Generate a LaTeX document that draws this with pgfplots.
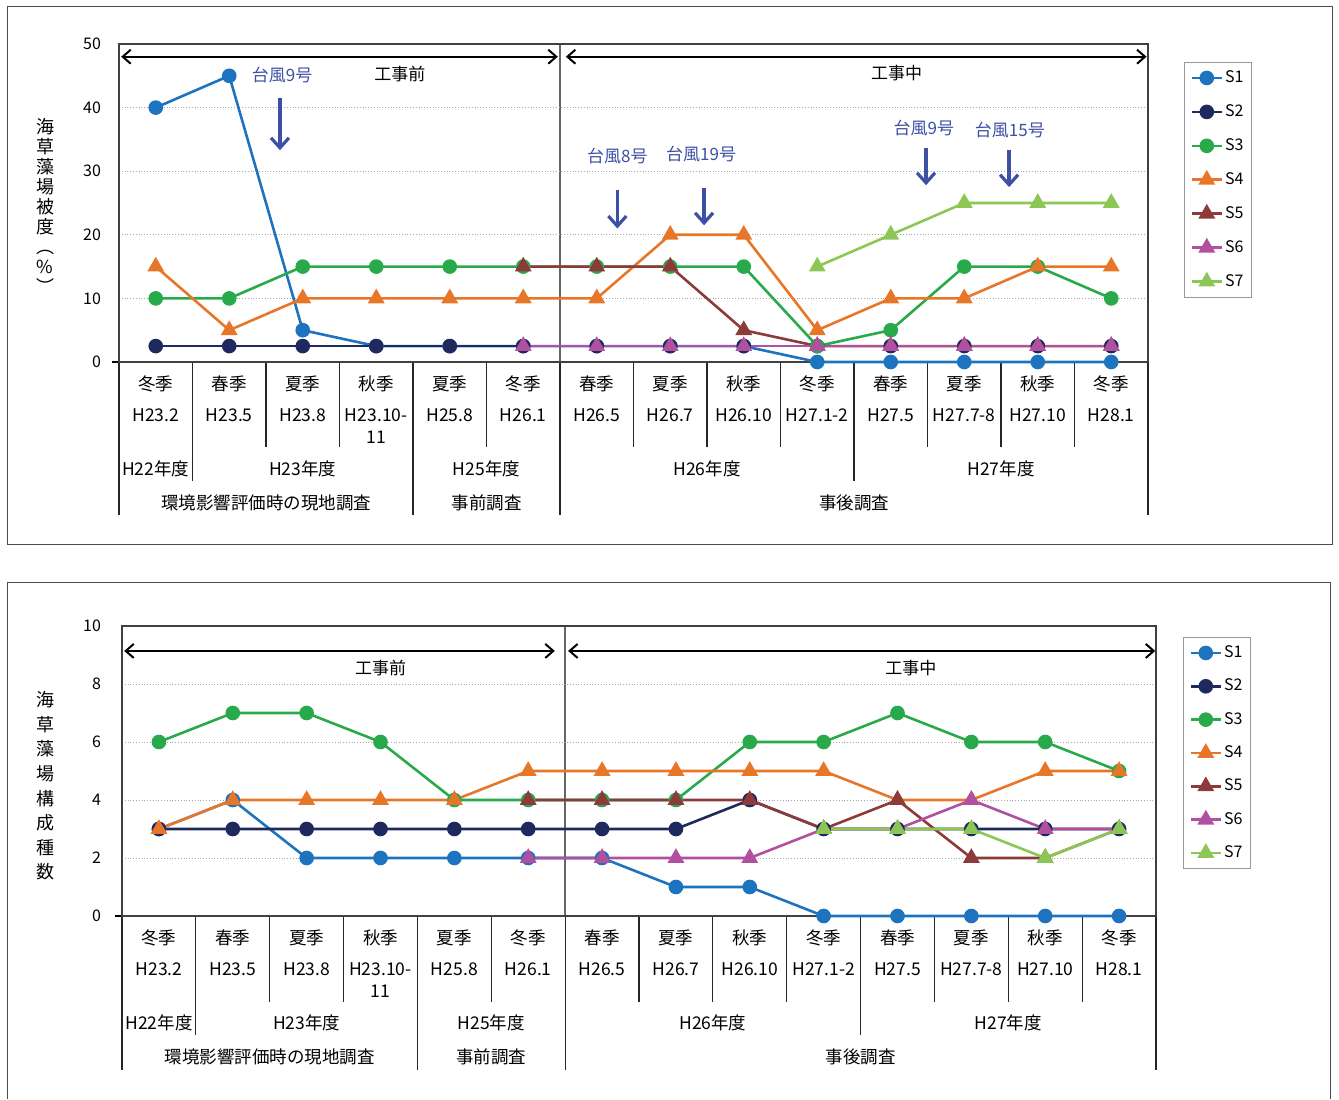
\documentclass[border=0pt]{standalone}
\usepackage{pgfplots}
\pgfplotsset{compat=1.18}
\usepackage{fontspec}
\setmainfont{Noto Sans CJK JP}
\usetikzlibrary{arrows.meta}

\definecolor{cS1}{RGB}{30,115,190}
\definecolor{cS2}{RGB}{30,42,94}
\definecolor{cS3}{RGB}{40,170,75}
\definecolor{cS4}{RGB}{232,118,40}
\definecolor{cS5}{RGB}{140,58,58}
\definecolor{cS6}{RGB}{178,80,160}
\definecolor{cS7}{RGB}{140,198,85}
\definecolor{typh}{RGB}{60,80,165}

\pgfplotsset{
  ser/.style={line width=1.3pt, mark options={solid}},
  s1/.style={ser, color=cS1, mark=*, mark size=3pt},
  s2/.style={ser, color=cS2, mark=*, mark size=3pt},
  s3/.style={ser, color=cS3, mark=*, mark size=3pt},
  s4/.style={ser, color=cS4, mark=triangle*, mark size=3.6pt},
  s5/.style={ser, color=cS5, mark=triangle*, mark size=3.6pt},
  s6/.style={ser, color=cS6, mark=triangle*, mark size=3.6pt},
  s7/.style={ser, color=cS7, mark=triangle*, mark size=3.6pt},
  chart/.style={
    scale only axis, anchor=south west,
    xmin=-0.5, xmax=13.5, xtick=\empty, ymin=0,
    ymajorgrids, grid style={densely dotted, black!35, line width=0.4pt},
    axis line style={draw=black!75, line width=0.7pt},
    major tick length=0pt,
    tick label style={font=\fontsize{8}{9}\selectfont},
    /pgf/number format/assume math mode=true,
    clip=false,
    legend cell align=left,
    legend image code/.code={\draw[##1, mark repeat=2, mark phase=2]
      plot coordinates {(0pt,0pt) (7.5pt,0pt) (15pt,0pt)};},
    legend style={anchor=north west, draw=black!40, line width=0.5pt,
      font=\fontsize{8}{9}\selectfont, inner xsep=3pt, inner ysep=3pt,
      row sep=7.5pt, nodes={inner sep=1pt}},
  },
}
\tikzset{
  period/.style={black, line width=1pt,
    {Straight Barb[length=4pt,width=7pt]}-{Straight Barb[length=4pt,width=7pt]}},
  typharrow/.style={typh, line width=1.6pt, -{Straight Barb[length=5pt,width=9pt]}},
  typhtext/.style={typh, font=\fontsize{8.5}{10}\selectfont},
  phasetext/.style={black, font=\fontsize{8.5}{10}\selectfont},
}

% category table under each chart (x unit = one category, y unit = 0.5pt)
\newcommand{\categorytable}{%
  \draw[black!60, line width=0.7pt] (6,0) -- (6,\plotheight);
  \draw[black!85, line width=0.6pt]
    \foreach \k in {2,3,5,7,8,9,11,12,13} {(\k,0) -- (\k,-85.5)}
    (1,0) -- (1,-119) (10,0) -- (10,-119)
    (0,0) -- (0,-153.5) (4,0) -- (4,-153.5) (6,0) -- (6,-153.5) (14,0) -- (14,-153.5);
  \draw[black, line width=1.3pt] (-0.1,0) -- (14,0);
  \begin{scope}[font=\fontsize{8.75}{10}\selectfont]
    \foreach \s [count=\i from 0] in {冬季,春季,夏季,秋季,夏季,冬季,春季,夏季,秋季,冬季,春季,夏季,秋季,冬季}
      \node at (\i+0.5,-21.5) {\s};
    \foreach \s [count=\i from 0] in {H23.2,H23.5,H23.8,H23.10-,H25.8,H26.1,H26.5,H26.7,H26.10,H27.1-2,H27.5,H27.7-8,H27.10,H28.1}
      \node at (\i+0.5,-53.5) {\s};
    \node at (3.5,-75.5) {11};
    \node at (0.5,-107) {H22年度};
    \node at (2.5,-107) {H23年度};
    \node at (5,-107) {H25年度};
    \node at (8,-107) {H26年度};
    \node at (12,-107) {H27年度};
    \node at (2,-140.5) {環境影響評価時の現地調査};
    \node at (5,-140.5) {事前調査};
    \node at (10,-140.5) {事後調査};
  \end{scope}
}

\begin{document}
\begin{tikzpicture}
\useasboundingbox (0,0) rectangle (669.5pt,549.5pt);

% panel frames
\begin{scope}[x=0.5pt, y=-0.5pt, yshift=549.5pt]
  \draw[black!70, line width=0.5pt] (7,7) rectangle (1332,545);
  \draw[black!70, line width=0.5pt] (7,1099) -- (7,583) -- (1330,583) -- (1330,1099);
\end{scope}

% y-axis titles, set vertically
\node[font=\fontsize{9}{10}\selectfont, align=center, inner sep=0pt] at (22.5pt,446.5pt)
  {海\\草\\藻\\場\\被\\度\\︵\\\%\\︶};
\node[font=\fontsize{9}{12.3}\selectfont, align=center, inner sep=0pt] at (22.5pt,156.5pt)
  {海\\草\\藻\\場\\構\\成\\種\\数};

% ---------- seagrass coverage (%) ----------
\def\plotheight{318}
\begin{scope}[shift={(59.5pt,368.5pt)}, x=36.75pt, y=0.5pt]
  \categorytable
\end{scope}

\begin{axis}[chart,
  at={(59.5pt,368.5pt)}, width=514.5pt, height=159pt,
  ymax=50, ytick={0,10,...,50},
  yticklabel style={xshift=-5.5pt},
  legend style={at={(1,1)}, xshift=18pt, yshift=-9pt},
]
\addplot[s1] coordinates {(0,40) (1,45) (2,5) (3,2.5) (4,2.5) (5,2.5) (6,2.5) (7,2.5) (8,2.5) (9,0) (10,0) (11,0) (12,0) (13,0)};
\addlegendentry{S1}
\addplot[s2] coordinates {(0,2.5) (1,2.5) (2,2.5) (3,2.5) (4,2.5) (5,2.5) (6,2.5) (7,2.5) (8,2.5) (9,2.5) (10,2.5) (11,2.5) (12,2.5) (13,2.5)};
\addlegendentry{S2}
\addplot[s3] coordinates {(0,10) (1,10) (2,15) (3,15) (4,15) (5,15) (6,15) (7,15) (8,15) (9,2.5) (10,5) (11,15) (12,15) (13,10)};
\addlegendentry{S3}
\addplot[s4] coordinates {(0,15) (1,5) (2,10) (3,10) (4,10) (5,10) (6,10) (7,20) (8,20) (9,5) (10,10) (11,10) (12,15) (13,15)};
\addlegendentry{S4}
\addplot[s5] coordinates {(5,15) (6,15) (7,15) (8,5) (9,2.5) (10,2.5) (11,2.5) (12,2.5) (13,2.5)};
\addlegendentry{S5}
\addplot[s6] coordinates {(5,2.5) (6,2.5) (7,2.5) (8,2.5) (9,2.5) (10,2.5) (11,2.5) (12,2.5) (13,2.5)};
\addlegendentry{S6}
\addplot[s7] coordinates {(9,15) (10,20) (11,25) (12,25) (13,25)};
\addlegendentry{S7}

\draw[period] (axis cs:-0.47,48) -- (axis cs:5.47,48);
\draw[period] (axis cs:5.58,48) -- (axis cs:13.48,48);
\node[phasetext] at (axis cs:3.32,45.3) {工事前};
\node[phasetext] at (axis cs:10.08,45.4) {工事中};

\node[typhtext] at (axis cs:1.72,45.1) {台風9号};
\draw[typharrow] (axis cs:1.69,41.5) -- (axis cs:1.69,33.3);
\node[typhtext] at (axis cs:6.28,32.4) {台風8号};
\draw[typharrow] (axis cs:6.28,27.0) -- (axis cs:6.28,21.0);
\node[typhtext] at (axis cs:7.42,32.7) {台風19号};
\draw[typharrow] (axis cs:7.46,27.4) -- (axis cs:7.46,21.5);
\node[typhtext] at (axis cs:10.45,36.8) {台風9号};
\draw[typharrow] (axis cs:10.48,33.6) -- (axis cs:10.48,27.8);
\node[typhtext] at (axis cs:11.62,36.5) {台風15号};
\draw[typharrow] (axis cs:11.61,33.3) -- (axis cs:11.61,27.5);
\end{axis}

% ---------- number of seagrass species ----------
\def\plotheight{290}
\begin{scope}[shift={(61pt,91.5pt)}, x=36.929pt, y=0.5pt]
  \categorytable
\end{scope}

\begin{axis}[chart,
  at={(61pt,91.5pt)}, width=517pt, height=145pt,
  ymax=10, ytick={0,2,...,10},
  yticklabel style={xshift=-7pt},
  legend style={at={(1,1)}, xshift=13.5pt, yshift=-5.5pt, row sep=7.2pt},
]
\addplot[s1] coordinates {(0,3) (1,4) (2,2) (3,2) (4,2) (5,2) (6,2) (7,1) (8,1) (9,0) (10,0) (11,0) (12,0) (13,0)};
\addlegendentry{S1}
\addplot[s2] coordinates {(0,3) (1,3) (2,3) (3,3) (4,3) (5,3) (6,3) (7,3) (8,4) (9,3) (10,3) (11,3) (12,3) (13,3)};
\addlegendentry{S2}
\addplot[s3] coordinates {(0,6) (1,7) (2,7) (3,6) (4,4) (5,4) (6,4) (7,4) (8,6) (9,6) (10,7) (11,6) (12,6) (13,5)};
\addlegendentry{S3}
\addplot[s4] coordinates {(0,3) (1,4) (2,4) (3,4) (4,4) (5,5) (6,5) (7,5) (8,5) (9,5) (10,4) (11,4) (12,5) (13,5)};
\addlegendentry{S4}
\addplot[s5] coordinates {(5,4) (6,4) (7,4) (8,4) (9,3) (10,4) (11,2) (12,2) (13,3)};
\addlegendentry{S5}
\addplot[s6] coordinates {(5,2) (6,2) (7,2) (8,2) (9,3) (10,3) (11,4) (12,3) (13,3)};
\addlegendentry{S6}
\addplot[s7] coordinates {(9,3) (10,3) (11,3) (12,2) (13,3)};
\addlegendentry{S7}

\draw[period] (axis cs:-0.47,9.14) -- (axis cs:5.36,9.14);
\draw[period] (axis cs:5.54,9.14) -- (axis cs:13.49,9.14);
\node[phasetext] at (axis cs:3.0,8.55) {工事前};
\node[phasetext] at (axis cs:10.18,8.55) {工事中};
\end{axis}
\end{tikzpicture}
\end{document}
